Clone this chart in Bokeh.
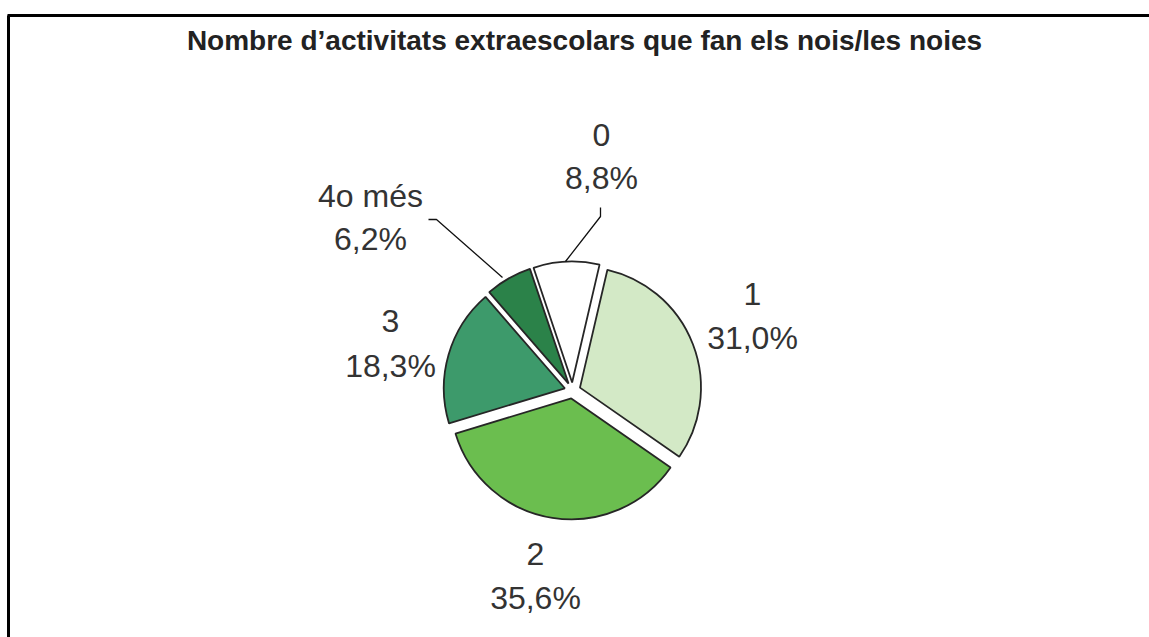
import numpy as np
from bokeh.plotting import figure
from bokeh.models import Range1d
from bokeh.embed import file_html
from bokeh.resources import INLINE
from bokeh.core.properties import value

# ---- data ----
title = "Nombre d\u2019activitats extraescolars que fan els nois/les noies"
categories = ["0", "1", "2", "3", "4o m\u00e9s"]
percents = [8.8, 31.0, 35.6, 18.3, 6.2]
pct_labels = ["8,8%", "31,0%", "35,6%", "18,3%", "6,2%"]
colors = ["#FFFFFF", "#D3E9C6", "#6BBE4F", "#3D9A6B", "#2B8249"]

# ---- layout (page pixel coords) ----
W, H = 1149, 637
def X(px): return px
def Y(py): return H - py

cx, cy = 572, 390
R = 121
EXPLODE = 8
START_DEG = -18.6  # clockwise from 12 o'clock

# label anchors (page coords): x centre, middle of first line, middle of second line
label_pos = {
    "0": (601, 134, 177),
    "1": (752, 293, 337),
    "2": (535, 553, 597),
    "3": (390, 320, 365),
    "4o m\u00e9s": (370, 195, 238),
}
leaders = [
    [(428, 219), (436, 219), (502, 277)],
    [(600, 207), (600, 216), (565, 261)],
]

p = figure(width=W, height=H, output_backend="svg", toolbar_location=None,
           x_range=Range1d(0, W), y_range=Range1d(0, H), min_border=0)
p.axis.visible = False
p.grid.visible = False
p.outline_line_color = None
p.background_fill_color = "white"
p.border_fill_color = "white"

# frame (left & top edges visible)
p.line([X(8), X(8)], [Y(15), Y(700)], line_color="black", line_width=3)
p.line([X(7), X(1200)], [Y(15), Y(15)], line_color="black", line_width=3)

# pie
total = sum(percents)
cum = START_DEG
xs, ys, sa, ea = [], [], [], []
for v in percents:
    th1 = cum
    th2 = cum + v / total * 360.0
    mid = np.radians((th1 + th2) / 2)
    ox = cx + EXPLODE * np.sin(mid)
    oy = cy - EXPLODE * np.cos(mid)
    xs.append(X(ox)); ys.append(Y(oy))
    sa.append(np.pi / 2 - np.radians(th2))
    ea.append(np.pi / 2 - np.radians(th1))
    cum = th2

p.wedge(x=xs, y=ys, radius=R, start_angle=sa, end_angle=ea,
        fill_color=colors, line_color="#262626", line_width=1.8)

# leader lines
for pts in leaders:
    p.line([X(a) for a, b in pts], [Y(b) for a, b in pts], line_color="#111111", line_width=1.3)

# labels
lx, ly1, ly2 = [], [], []
for c in categories:
    a, b1, b2 = label_pos[c]
    lx.append(X(a)); ly1.append(Y(b1)); ly2.append(Y(b2))
p.text(x=lx, y=ly1, text=categories, text_align="center", text_baseline="middle",
       text_font=value("Liberation Sans"), text_font_size="32px", text_color="#333333")
p.text(x=lx, y=ly2, text=pct_labels, text_align="center", text_baseline="middle",
       text_font=value("Liberation Sans"), text_font_size="32px", text_color="#333333")

# title
p.text(x=[X(584)], y=[Y(40)], text=[title], text_align="center", text_baseline="middle",
       text_font=value("Liberation Sans"), text_font_style="bold", text_font_size="28px",
       text_color="#222222")

open("out.html", "w").write(file_html(p, INLINE))
